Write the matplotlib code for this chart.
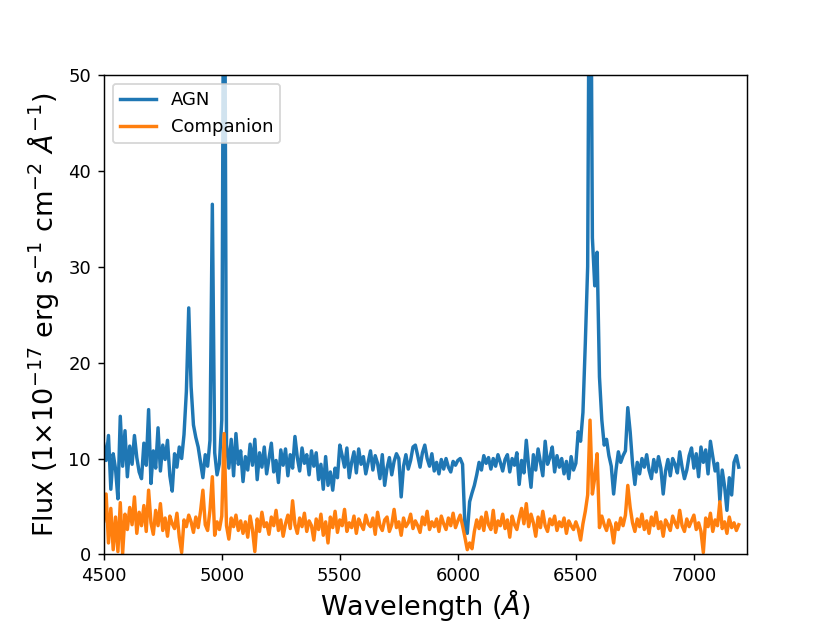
import numpy as np
import matplotlib
matplotlib.use("Agg")
import matplotlib.pyplot as plt

# -----------------------------------
# Data (10 A steps)
# -----------------------------------
wave = np.arange(4500, 7200, 10)

agn_flux = [
    11.5, 9.8, 12.4, 6.8, 10.5, 8.9, 5.8, 14.4, 9.2, 12.9,
    8.1, 11.3, 9.4, 12.4, 10.1, 8.6, 7.9, 11.6, 9.3, 15.1,
    7.4, 10.8, 9.0, 13.2, 8.7, 11.4, 9.9, 11.9, 8.2, 6.6,
    10.5, 9.1, 11.2, 10.0, 12.5, 17.0, 25.7, 17.5, 13.5, 12.2,
    11.2, 9.6, 8.0, 10.4, 9.2, 11.9, 36.5, 10.6, 8.3, 9.5,
    14.0, 80.0, 11.5, 9.0, 12.0, 8.2, 12.6, 9.4, 10.8, 7.6,
    10.2, 8.8, 11.5, 9.3, 12.0, 7.8, 10.6, 9.1, 11.2, 8.4,
    10.0, 11.6, 8.6, 9.8, 7.5, 10.9, 9.3, 11.0, 8.2, 10.4,
    9.0, 12.3, 10.1, 8.7, 11.1, 9.5, 10.4, 8.3, 10.8, 9.2,
    10.6, 7.8, 9.4, 6.8, 10.2, 7.2, 8.6, 6.7, 9.0, 8.0,
    11.4, 10.3, 9.1, 11.1, 8.0, 9.6, 10.7, 8.5, 11.0, 9.4,
    10.2, 8.4, 9.6, 10.8, 8.8, 10.3, 9.5, 7.9, 10.4, 7.2,
    9.0, 10.1, 8.3, 9.7, 10.5, 10.0, 6.0, 9.2, 10.4, 8.9,
    9.8, 11.2, 11.4, 10.3, 9.1, 10.6, 11.4, 10.0, 9.2, 10.5,
    8.7, 9.6, 8.4, 9.9, 8.9, 10.0, 9.1, 8.6, 9.7, 9.3,
    9.8, 10.0, 9.4, 3.0, 2.2, 5.5, 6.4, 7.2, 8.3, 9.6,
    8.8, 10.3, 9.5, 10.1, 8.9, 10.0, 9.2, 10.4, 9.6, 8.7,
    9.9, 10.4, 8.6, 10.0, 9.3, 10.6, 7.3, 9.8, 8.5, 11.9,
    9.2, 7.0, 10.4, 8.8, 11.0, 9.6, 8.2, 11.8, 9.4, 10.1,
    11.2, 8.6, 10.3, 9.1, 10.0, 8.4, 9.7, 7.9, 10.2, 8.8,
    9.5, 12.8, 11.8, 14.8, 22.0, 30.0, 80.0, 33.0, 28.0, 31.5,
    18.5, 14.0, 11.4, 12.0, 10.3, 9.2, 6.3, 8.8, 10.7, 9.6,
    10.3, 10.8, 15.3, 12.8, 9.5, 7.3, 9.6, 8.4, 10.0, 9.1,
    10.4, 8.8, 7.9, 9.9, 8.6, 10.2, 9.0, 6.3, 8.7, 9.9,
    8.2, 10.0, 9.4, 8.5, 10.7, 9.1, 7.9, 8.8, 10.3, 11.1,
    9.0, 10.5, 8.1, 11.2, 9.6, 10.9, 8.4, 11.8, 10.2, 8.7,
    9.5, 5.6, 8.8, 7.1, 4.6, 8.0, 6.2, 9.6, 10.3, 9.1,
]

companion_flux = [
    3.5, 6.3, 1.2, 4.8, 0.5, 3.9, 0.3, 5.4, 0.1, 4.2,
    2.6, 4.9, 3.1, 6.0, 2.2, 4.4, 3.0, 5.1, 2.4, 6.7,
    3.3, 2.1, 4.6, 3.0, 5.3, 2.5, 3.8, 1.9, 4.0, 3.2,
    2.7, 4.3, 1.8, 0.2, 3.6, 2.9, 4.1, 3.4, 2.3, 3.9,
    2.8, 4.5, 6.7, 3.1, 2.5, 4.6, 8.1, 2.0, 3.4, 2.6,
    4.0, 12.6, 3.0, 1.6, 3.8, 2.9, 4.1, 2.5, 3.5, 2.2,
    3.4, 1.8, 4.0, 2.6, 0.3, 3.7, 2.4, 4.4, 2.9, 3.3,
    2.1, 3.9, 3.0, 4.6, 2.5, 3.6, 1.9, 3.2, 4.1, 2.7,
    5.6, 3.1, 2.2, 3.8, 2.9, 4.3, 2.4, 3.5, 3.0, 1.5,
    3.7, 2.6, 4.2, 2.0, 3.4, 1.2, 3.9, 2.8, 4.5, 2.3,
    3.6, 3.0, 4.7, 2.4, 3.3, 2.8, 4.0, 2.2, 3.7, 3.1,
    2.6, 4.1, 3.2, 2.9, 3.8, 2.1, 4.4, 3.0, 2.5, 3.6,
    3.9, 2.4, 3.1, 4.7, 2.8, 3.4, 2.0, 3.8, 2.9, 3.3,
    4.2, 2.7, 3.5, 3.0, 2.3, 3.9, 3.1, 4.5, 2.6, 3.4,
    2.9, 3.7, 2.4, 4.0, 3.2, 2.6, 3.8, 3.0, 4.3, 2.8,
    3.5, 4.1, 3.0, 1.8, 0.5, 1.2, 0.6, 2.4, 3.6, 2.7,
    3.9, 2.5, 4.4, 3.1, 2.6, 4.6, 2.3, 3.5, 3.0, 4.2,
    2.7, 3.6, 1.8, 4.0, 3.1, 2.6, 3.8, 4.8, 3.2, 5.3,
    2.9, 4.2, 3.3, 1.9, 3.9, 2.8, 4.5, 3.0, 2.4, 3.7,
    3.1, 4.0, 2.5, 3.4, 2.9, 3.8, 2.2, 3.5, 3.0, 2.6,
    3.4, 2.7, 1.5, 3.2, 4.5, 6.2, 14.0, 6.3, 8.0, 10.5,
    2.8, 4.0, 3.1, 2.5, 3.6, 2.9, 1.2, 3.3, 2.6, 3.8,
    3.0, 4.1, 7.2, 4.9, 3.3, 2.4, 3.7, 2.9, 4.2, 2.6,
    3.5, 2.2, 3.9, 3.0, 4.4, 2.7, 3.4, 1.9, 3.6, 3.1,
    2.5, 4.0, 3.3, 2.8, 4.6, 3.0, 2.4, 3.7, 2.9, 3.5,
    4.1, 2.6, 3.3, 2.4, 0.2, 3.8, 2.9, 4.3, 2.4, 3.6,
    3.0, 5.5, 2.7, 3.4, 2.2, 3.9, 2.8, 3.3, 2.5, 3.1,
]

labels = ["AGN", "Companion"]

# -----------------------------------
# Plot
# -----------------------------------
fig, ax = plt.subplots(figsize=(830 / 130, 623 / 130), dpi=130)

ax.plot(wave, agn_flux, lw=1.9, label=labels[0])
ax.plot(wave, companion_flux, lw=1.9, label=labels[1])

ax.set_xlim(4500, 7225)
ax.set_ylim(0, 50)

ax.set_xlabel(r"Wavelength ($\AA$)", fontsize=15, labelpad=1)
ax.set_ylabel(r"Flux (1$\times$10$^{-17}$ erg s$^{-1}$ cm$^{-2}$ $\AA^{-1}$)", fontsize=15)
ax.legend(loc="upper left")

fig.savefig("out.png", dpi=130)
